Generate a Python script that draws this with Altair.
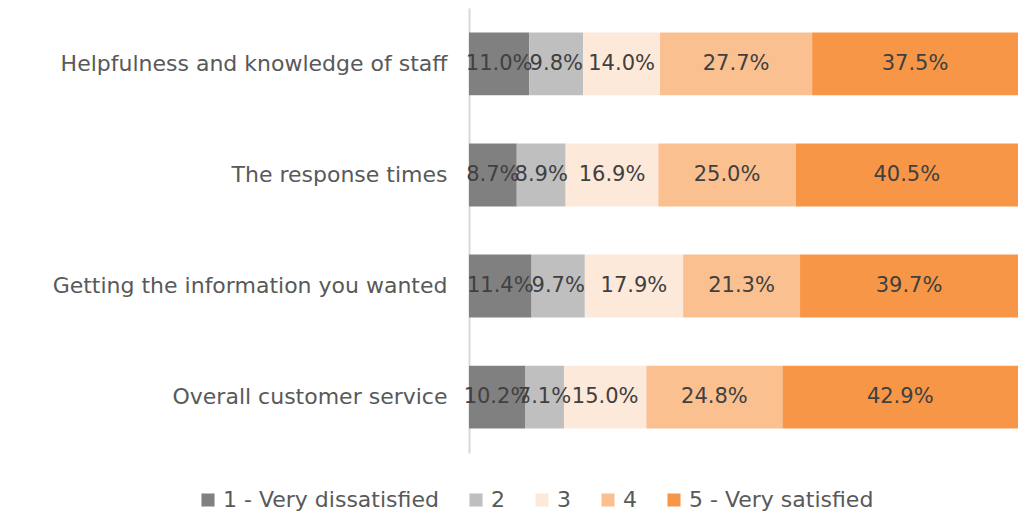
import altair as alt
import pandas as pd

categories = [
    "Helpfulness and knowledge of staff",
    "The response times",
    "Getting the information you wanted",
    "Overall customer service",
]
levels = ["1 - Very dissatisfied", "2", "3", "4", "5 - Very satisfied"]
colors = ["#808080", "#bfbfbf", "#fde9d9", "#fac090", "#f79646"]

v1 = [11.0, 8.7, 11.4, 10.2]
v2 = [9.8, 8.9, 9.7, 7.1]
v3 = [14.0, 16.9, 17.9, 15.0]
v4 = [27.7, 25.0, 21.3, 24.8]
v5 = [37.5, 40.5, 39.7, 42.9]
series = [v1, v2, v3, v4, v5]

rows = []
for li, (lev, vals) in enumerate(zip(levels, series)):
    for ci, cat in enumerate(categories):
        rows.append({"category": cat, "level": lev, "order": li, "value": vals[ci],
                     "label": f"{vals[ci]:.1f}%"})
df = pd.DataFrame(rows)

FONT = "DejaVu Sans"
TXT = "#404040"
AXT = "#595959"

base = alt.Chart(df).transform_stack(
    stack="value", as_=["x0", "x1"], groupby=["category"],
    sort=[alt.SortField("order", order="ascending")]
).transform_calculate(mid="(datum.x0 + datum.x1) / 2")

yenc = alt.Y("category:N", sort=categories, title=None,
             scale=alt.Scale(paddingInner=0.434, paddingOuter=0.22),
             axis=alt.Axis(domainColor="#d9d9d9", domainWidth=2, ticks=False,
                           labelFont=FONT, labelFontSize=22, labelColor=AXT,
                           labelPadding=22, labelLimit=500))

xscale = alt.Scale(domain=[0, 100], nice=False, zero=True)

bars = base.mark_bar().encode(
    x=alt.X("x0:Q", scale=xscale, axis=None),
    x2="x1:Q",
    y=yenc,
    color=alt.Color("level:N", sort=levels,
                    scale=alt.Scale(domain=levels, range=colors),
                    legend=alt.Legend(title=None, orient="none", direction="horizontal",
                                      legendX=-272, legendY=481,
                                      symbolType="square", symbolSize=170,
                                      symbolStrokeWidth=0, labelOffset=4,
                                      columnPadding=26, labelLimit=400,
                                      labelFont=FONT, labelFontSize=22, labelColor=AXT)),
    order=alt.Order("order:Q"),
)

text = base.mark_text(font=FONT, fontSize=21, color=TXT).encode(
    x=alt.X("mid:Q", scale=xscale, axis=None),
    y=alt.Y("category:N", sort=categories),
    text="label:N",
)

chart = (bars + text).properties(
    width=549, height=445,
    autosize=alt.AutoSizeParams(type="none"),
    padding={"left": 461, "top": 0, "right": 0, "bottom": 58},
).configure_view(stroke=None)

chart.save("out.html", embed_options={"renderer": "svg", "actions": False})
